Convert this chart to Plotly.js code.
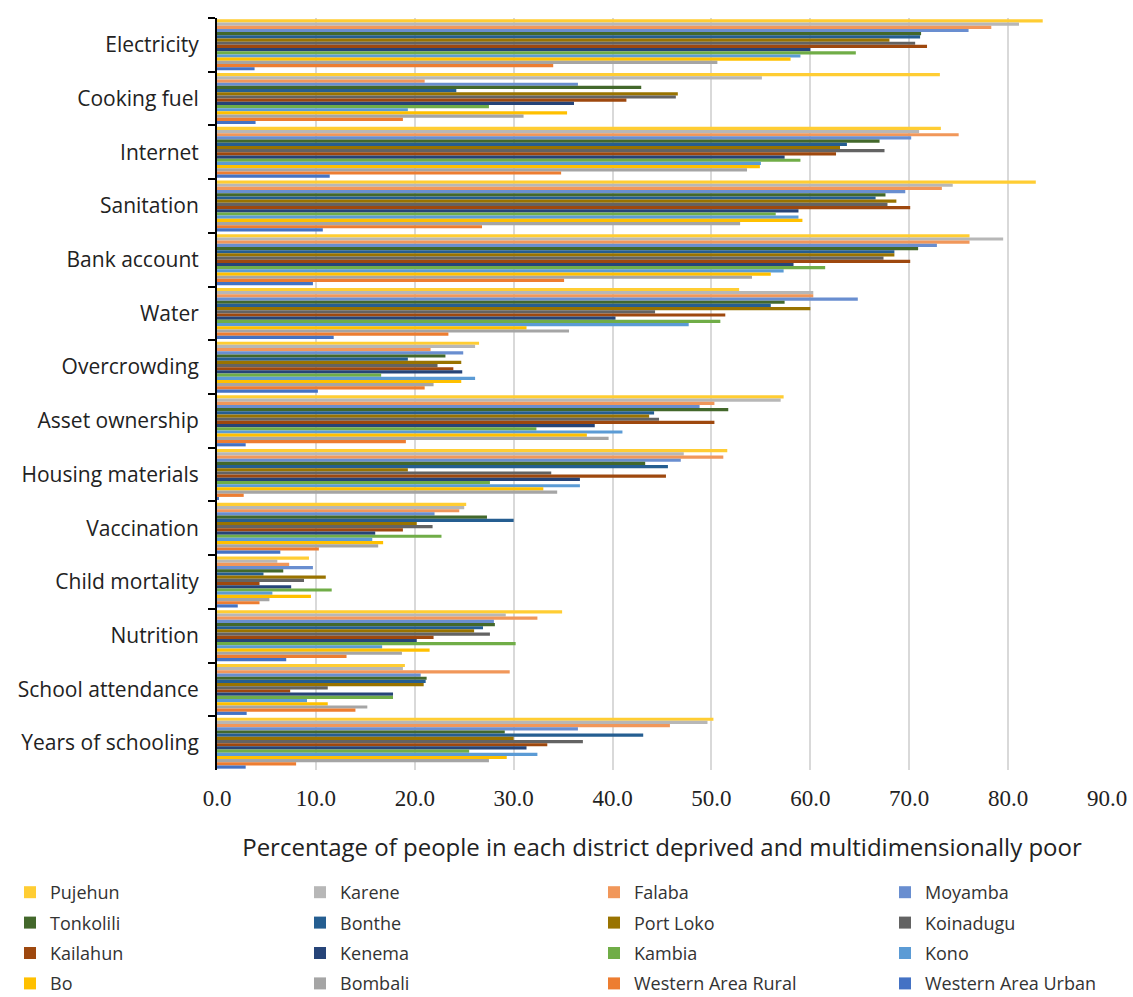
<!DOCTYPE html>
<html><head><meta charset="utf-8">
<script src="https://cdn.plot.ly/plotly-3.0.1.min.js"></script>
<style>body{margin:0;background:#fff}#chart{width:1133px;height:997px}</style>
</head><body><div id="chart"></div>
<script>
const categories = ["Electricity","Cooking fuel","Internet","Sanitation","Bank account","Water","Overcrowding","Asset ownership","Housing materials","Vaccination","Child mortality","Nutrition","School attendance","Years of schooling"];
const districts = ["Pujehun","Karene","Falaba","Moyamba","Tonkolili","Bonthe","Port Loko","Koinadugu","Kailahun","Kenema","Kambia","Kono","Bo","Bombali","Western Area Rural","Western Area Urban"];
const colors = ["#FFCD33","#B7B7B7","#F1975A","#698ED0","#43682B","#255E91","#997300","#636363","#9E480E","#264478","#70AD47","#5B9BD5","#FFC000","#A5A5A5","#ED7D31","#4472C4"];
// values per district, in category order
const Pujehun = [83.5,73.1,73.2,82.8,76.1,52.8,26.5,57.3,51.6,25.2,9.3,34.9,19.0,50.2];
const Karene = [81.1,55.1,71.0,74.4,79.5,60.3,26.1,57.0,47.2,25.0,6.1,29.2,18.8,49.6];
const Falaba = [78.3,21.0,75.0,73.3,76.1,60.3,21.6,50.3,51.2,24.5,7.3,32.4,29.6,45.8];
const Moyamba = [76.0,36.5,70.2,69.6,72.8,64.8,24.9,48.8,46.9,22.0,9.7,28.0,20.6,36.5];
const Tonkolili = [71.2,42.9,67.0,67.6,70.9,57.4,23.1,51.7,43.3,27.3,6.7,28.1,21.2,29.1];
const Bonthe = [71.1,24.2,63.7,66.6,68.5,56.0,19.3,44.2,45.6,30.0,4.7,26.9,21.1,43.1];
const PortLoko = [68.0,46.6,63.0,68.7,68.5,60.0,24.7,43.7,19.3,20.2,11.0,26.0,20.9,30.0];
const Koinadugu = [70.6,46.4,67.5,67.8,67.4,44.3,22.3,44.7,33.8,21.8,8.8,27.6,11.2,37.0];
const Kailahun = [71.8,41.4,62.6,70.1,70.1,51.4,23.9,50.3,45.4,18.8,4.3,21.9,7.4,33.4];
const Kenema = [60.0,36.1,57.4,58.8,58.3,40.3,24.8,38.2,36.7,16.0,7.5,20.2,17.8,31.3];
const Kambia = [64.6,27.5,59.0,56.5,61.5,50.9,16.6,32.3,27.6,22.7,11.6,30.2,17.8,25.5];
const Kono = [59.0,19.3,55.0,58.8,57.3,47.7,26.1,41.0,36.7,15.7,5.6,16.7,9.1,32.4];
const Bo = [58.0,35.4,54.9,59.2,56.0,31.3,24.7,37.4,33.0,16.8,9.5,21.5,11.2,29.3];
const Bombali = [50.6,31.0,53.6,52.9,54.1,35.6,21.9,39.6,34.4,16.3,5.3,18.7,15.2,27.5];
const WesternAreaRural = [34.0,18.8,34.8,26.8,35.1,23.4,21.0,19.1,2.7,10.3,4.3,13.1,14.0,8.0];
const WesternAreaUrban = [3.8,3.9,11.4,10.7,9.7,11.8,10.2,2.9,0.2,6.4,2.1,7.0,3.0,2.9];
const seriesValues = [Pujehun,Karene,Falaba,Moyamba,Tonkolili,Bonthe,PortLoko,Koinadugu,Kailahun,Kenema,Kambia,Kono,Bo,Bombali,WesternAreaRural,WesternAreaUrban];
const xTicks = [0,10,20,30,40,50,60,70,80,90];

const legendIds = ['legend','legend2','legend3','legend4'];
const traces = districts.map((d,i)=>({
  type:'bar', orientation:'h', name:d, y:categories, x:seriesValues[i],
  marker:{color:colors[i]}, hoverinfo:'x+name', legend:legendIds[i%4], legendgroup:d
}));

const plotL = 217, plotW = 890, plotB = 770, plotH = 752;
const legFont = {family:'Open Sans, sans-serif', size:18, color:'#333'};
function leg(px){
  return {orientation:'v', x:(px-plotL)/plotW, y:(plotB-874)/plotH, xanchor:'left', yanchor:'top',
    traceorder:'grouped', font:legFont, itemwidth:30, bgcolor:'rgba(0,0,0,0)', tracegroupgap:4};
}

const layout = {
  width:1133, height:997,
  margin:{l:plotL, r:1133-plotL-plotW, t:18, b:997-plotB, autoexpand:false},
  paper_bgcolor:'#fff', plot_bgcolor:'#fff',
  barmode:'group', bargap:0.05, bargroupgap:0,
  font:{family:'Open Sans, sans-serif', color:'#222'},
  xaxis:{range:[0,90], tickvals:xTicks, tickformat:'.1f', showgrid:true, gridcolor:'#D9D9D9', gridwidth:2,
    zeroline:false, showline:false, ticks:'', ticklabelstandoff:12,
    tickfont:{family:'Liberation Serif, serif', size:23, color:'#222'},
    title:{text:'Percentage of people in each district deprived and multidimensionally poor', font:{family:'Open Sans, sans-serif', size:24, color:'#222'}, standoff:29}},
  yaxis:{type:'category', autorange:'reversed', showline:true, linecolor:'#000', linewidth:2,
    ticks:'outside', ticklen:7, tickwidth:2, tickcolor:'#000', tickson:'boundaries', showgrid:false,
    ticklabelstandoff:12, tickfont:{family:'Open Sans, sans-serif', size:21, color:'#222'}},
  legend:leg(10), legend2:leg(300), legend3:leg(594), legend4:leg(885)
};
Plotly.newPlot('chart', traces, layout, {displayModeBar:false});
</script>
</body></html>
